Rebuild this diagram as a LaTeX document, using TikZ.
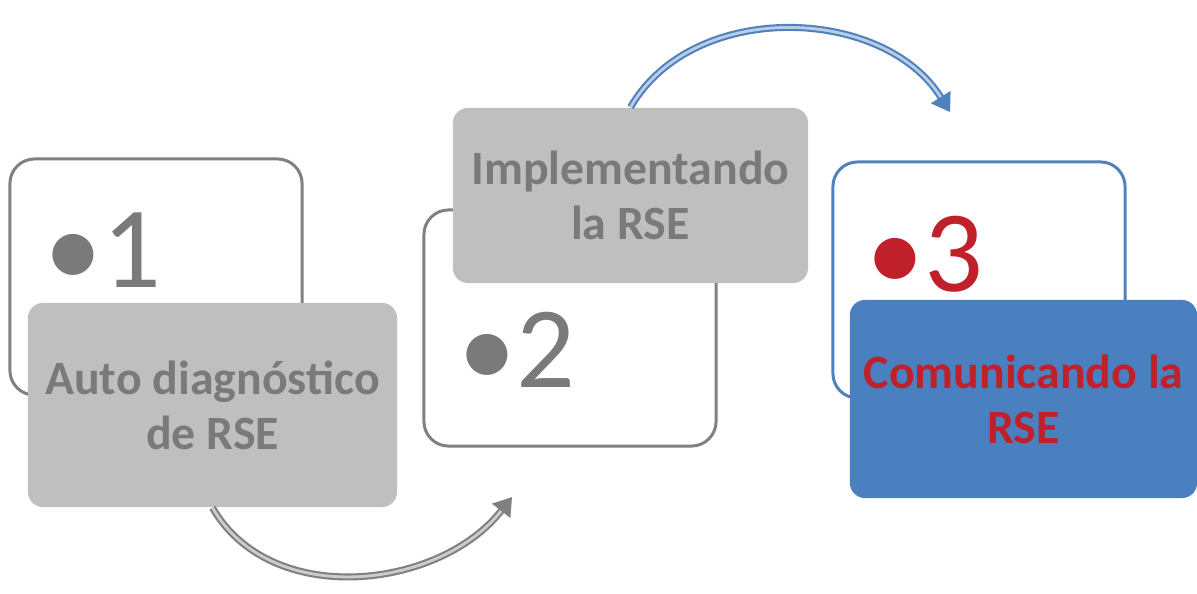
\documentclass[tikz,border=0pt]{standalone}
\usepackage{fontspec}
\setmainfont{Carlito}
\usetikzlibrary{arrows.meta}
\definecolor{boxgray}{HTML}{BFBFBF}
\definecolor{textgray}{HTML}{7A7A7A}
\definecolor{linegray}{HTML}{808080}
\definecolor{lineblue}{HTML}{4F81BD}
\definecolor{boxblue}{HTML}{4A80C0}
\definecolor{textred}{HTML}{C0202A}

\begin{document}
\begin{tikzpicture}[x=0.01cm,y=-0.01cm,>={Triangle[length=5pt,width=6.5pt]},
    outbox/.style={draw=#1,line width=0.85pt,rounded corners=7pt,minimum width=2.92cm,minimum height=2.36cm,inner sep=0pt},
    numtext/.style={text=#1,anchor=west,inner sep=0pt,font=\fontsize{33}{40}\selectfont},
    stepbox/.style={fill=#1,rounded corners=4.3pt,align=center,inner sep=0pt,font=\bfseries\fontsize{13.6}{15.6}\selectfont},
    flow/.style={draw=#1,double=#1!40,double distance=0.8pt,line width=0.6pt,->}]
    \useasboundingbox (0,0) rectangle (1197,594);
    % frames behind the steps
    \foreach \i/\x/\y/\c in {1/156/277/linegray,2/570/328/linegray,3/979/280/lineblue}
    {
        \node [outbox=\c] (o\i) at (\x,\y) {};
    }
    \node [numtext=textgray] (n1) at (44,250) {•1};
    \node [numtext=textgray] (n2) at (458,350) {•2};
    \node [numtext=textred] (n3) at (866,254) {•3};
    % steps
    \node [stepbox=boxgray,text=textgray,minimum width=3.69cm,minimum height=2.04cm] (s1) at (212.5,405) {Auto diagnóstico\\de RSE};
    \node [stepbox=boxgray,text=textgray,minimum width=3.55cm,minimum height=1.75cm] (s2) at (630.5,195.5) {Implementando\\la RSE};
    \node [stepbox=boxblue,text=textred,minimum width=3.47cm,minimum height=1.98cm] (s3) at (1023.5,399) {Comunicando la\\RSE};
    % arrows
    \coordinate (e1) at (512,497);
    \coordinate (e2) at (950,112);
    \draw [flow=linegray] (s1.south) to[out=-60,in=-128] (e1);
    \draw [flow=lineblue] (s2.north) to[out=60,in=122] (e2);
\end{tikzpicture}
\end{document}
